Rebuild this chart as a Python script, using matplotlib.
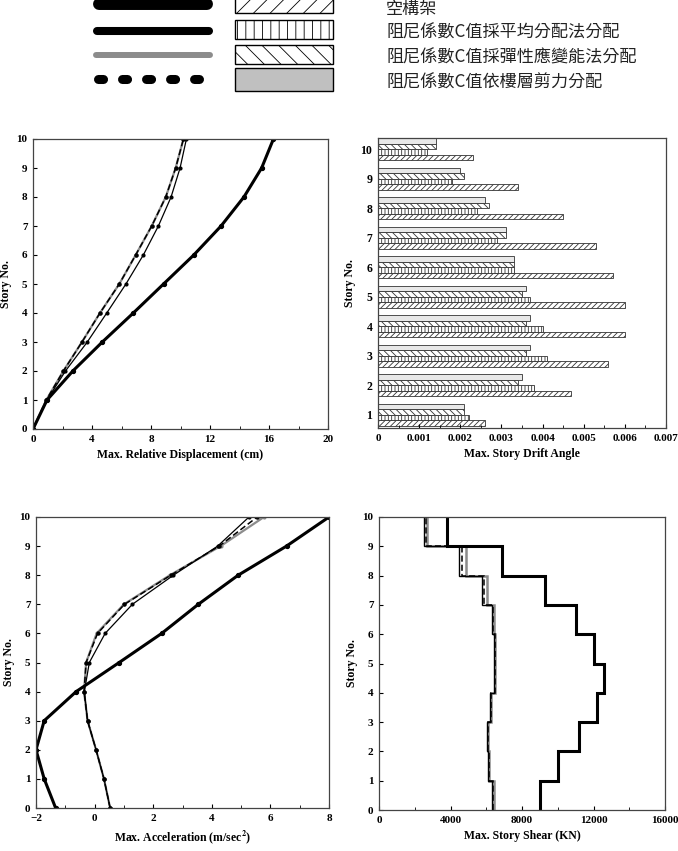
import matplotlib
matplotlib.use('Agg')
import matplotlib.pyplot as plt
from matplotlib.patches import Rectangle
from matplotlib.ticker import MultipleLocator

plt.rcParams['font.family'] = ['Liberation Serif', 'DejaVu Serif']
plt.rcParams['font.weight'] = 'bold'
plt.rcParams['axes.labelweight'] = 'bold'
plt.rcParams['mathtext.fontset'] = 'stix'
plt.rcParams['hatch.linewidth'] = 0.6

# 樓層
stories = list(range(0, 11))
bar_stories = list(range(1, 11))

legend_labels = ['空構架',
                 '阻尼係數C值採平均分配法分配',
                 '阻尼係數C值採彈性應變能法分配',
                 '阻尼係數C值依樓層剪力分配']

# 最大相對位移 (cm)
disp_bare = [0, 0.95, 2.7, 4.7, 6.8, 8.85, 10.9, 12.75, 14.3, 15.5, 16.3]
disp_avg = [0, 0.95, 2.2, 3.68, 5.0, 6.3, 7.48, 8.5, 9.36, 9.97, 10.4]
disp_energy = [0, 0.9, 2.06, 3.32, 4.54, 5.85, 6.96, 8.05, 9.0, 9.67, 10.2]
disp_shear = [0, 0.9, 2.06, 3.32, 4.54, 5.85, 6.96, 8.05, 9.0, 9.67, 10.2]

# 最大層間變位角
drift_bare = [0.0026, 0.0047, 0.0056, 0.0060, 0.0060, 0.0057, 0.0053, 0.0045, 0.0034, 0.0023]
drift_avg = [0.0022, 0.0038, 0.0041, 0.0040, 0.0037, 0.0033, 0.0029, 0.0024, 0.0018, 0.0012]
drift_energy = [0.0021, 0.0034, 0.0036, 0.0036, 0.0035, 0.0033, 0.0031, 0.0027, 0.0021, 0.0014]
drift_shear = [0.0021, 0.0035, 0.0037, 0.0037, 0.0036, 0.0033, 0.0031, 0.0026, 0.0020, 0.0014]
drift_ticks = ['0', '0.001', '0.002', '0.003', '0.004', '0.005', '0.006', '0.007']

# 最大加速度 (m/sec2)
acc_bare = [-1.33, -1.72, -2.0, -1.72, -0.63, 0.84, 2.29, 3.54, 4.9, 6.55, 8.0]
acc_avg = [0.53, 0.32, 0.05, -0.24, -0.35, -0.18, 0.36, 1.29, 2.69, 4.2, 5.27]
acc_energy = [0.53, 0.32, 0.05, -0.24, -0.36, -0.29, 0.07, 1.0, 2.57, 4.3, 5.78]
acc_shear = [0.53, 0.32, 0.05, -0.24, -0.36, -0.29, 0.1, 1.02, 2.6, 4.25, 5.55]

# 最大層剪力 (KN)
shear_bare = [9000, 10000, 11200, 12200, 12600, 12000, 11000, 9300, 6900, 3800]
shear_avg = [6330, 6100, 6050, 6200, 6430, 6430, 6330, 5760, 4450, 2500]
shear_energy = [6420, 6180, 6110, 6280, 6500, 6500, 6420, 6030, 4860, 2700]
shear_shear = [6380, 6140, 6080, 6240, 6470, 6470, 6380, 5900, 4660, 2620]

W, H = 678, 851
fig = plt.figure(figsize=(W / 100, H / 100), dpi=100)


def px_axes(x0, y0, x1, y1):
    return fig.add_axes([x0 / W, 1 - y1 / H, (x1 - x0) / W, (y1 - y0) / H])


def style(ax, xlabel):
    ax.tick_params(which='both', direction='in', top=False, right=False, labelsize=8, pad=4)
    ax.tick_params(which='major', length=3)
    ax.tick_params(which='minor', length=2)
    for lab in ax.get_xticklabels() + ax.get_yticklabels():
        lab.set_fontweight('bold')
    for s in ax.spines.values():
        s.set_linewidth(0.9)
        s.set_color('#444444')
    ax.set_xlabel(xlabel, fontsize=8.5, fontweight='bold', labelpad=4)
    ax.set_ylabel('Story No.', fontsize=8.5, fontweight='bold', labelpad=3)


def plot_lines(ax, x_lists):
    bare, avg, energy, shear = x_lists
    ax.plot(energy, stories, color='#8c8c8c', lw=1.6, marker='o', ms=2)
    ax.plot(shear, stories, color='k', lw=1.1, ls=(0, (4, 2)), marker='o', ms=2.2)
    ax.plot(avg, stories, color='k', lw=0.9, marker='o', ms=2)
    ax.plot(bare, stories, color='k', lw=2.2, marker='o', ms=2.8)


# ---- legend ----
lax = px_axes(0, 0, W, 102)
lax.set_xlim(0, W)
lax.set_ylim(102, 0)
lax.axis('off')
lax.plot([99, 207], [4, 4], color='k', lw=8.6, solid_capstyle='round')
lax.plot([97, 209], [31, 31], color='k', lw=5.8, solid_capstyle='round')
lax.plot([96, 210], [55, 55], color='#8c8c8c', lw=4.3, solid_capstyle='round')
lax.plot([97.5, 199], [79, 79], color='k', lw=6.5, dash_capstyle='round',
         ls=(0, (0.56, 2.1)))
patch_specs = [(-2, 15, 'white', '//'), (20, 19, 'white', '||'),
               (45, 19, 'white', '\\\\'), (68, 23, '#c0c0c0', None)]
for (y0, h, fc, hatch) in patch_specs:
    lax.add_patch(Rectangle((235, y0), 98, h, facecolor=fc, edgecolor='k',
                            lw=1.0, hatch=hatch))
for lab, y in zip(legend_labels, [9, 33, 58, 83]):
    lax.text(386, y, lab, fontsize=12.3, va='center', ha='left', weight='light',
             color='#222222', family=['Noto Sans CJK TC', 'DejaVu Sans'])

# ---- 位移 ----
ax1 = px_axes(33, 139, 328, 429)
plot_lines(ax1, [disp_bare, disp_avg, disp_energy, disp_shear])
ax1.set_xlim(0, 20)
ax1.set_ylim(0, 10)
ax1.xaxis.set_major_locator(MultipleLocator(4))
ax1.xaxis.set_minor_locator(MultipleLocator(2))
ax1.yaxis.set_major_locator(MultipleLocator(1))
style(ax1, 'Max. Relative Displacement (cm)')

# ---- 層間變位角 ----
ax2 = px_axes(378, 138, 666, 428)
bh = 0.187
ax2.barh([s - 1.5 * bh for s in bar_stories], drift_bare, height=bh, color='white',
         edgecolor='#333333', lw=0.6, hatch='//////')
ax2.barh([s - 0.5 * bh for s in bar_stories], drift_avg, height=bh, color='white',
         edgecolor='#333333', lw=0.6, hatch='|||||')
ax2.barh([s + 0.5 * bh for s in bar_stories], drift_energy, height=bh, color='white',
         edgecolor='#333333', lw=0.6, hatch='\\\\\\\\\\')
ax2.barh([s + 1.5 * bh for s in bar_stories], drift_shear, height=bh, color='#e8e8e8',
         edgecolor='#333333', lw=0.6)
ax2.set_xlim(0, 0.007)
ax2.set_ylim(0.545, 10.374)
ax2.set_yticks(bar_stories)
ax2.set_xticks([i * 0.001 for i in range(len(drift_ticks))])
ax2.set_xticklabels(drift_ticks)
ax2.xaxis.set_minor_locator(MultipleLocator(0.0005))
style(ax2, 'Max. Story Drift Angle')
ax2.tick_params(axis='y', length=0, labelsize=8.5)

# ---- 加速度 ----
ax3 = px_axes(36, 517, 329, 808)
plot_lines(ax3, [acc_bare, acc_avg, acc_energy, acc_shear])
ax3.set_xlim(-2, 8)
ax3.set_ylim(0, 10)
ax3.xaxis.set_major_locator(MultipleLocator(2))
ax3.xaxis.set_minor_locator(MultipleLocator(1))
ax3.yaxis.set_major_locator(MultipleLocator(1))
style(ax3, 'Max. Acceleration (m/sec$^{\\mathbf{2}}$)')

# ---- 層剪力 ----
ax4 = px_axes(379, 517, 665, 810)
ax4.stairs(shear_energy, stories, orientation='horizontal', baseline=None,
           color='#8c8c8c', lw=1.8)
ax4.stairs(shear_shear, stories, orientation='horizontal', baseline=None,
           color='k', lw=1.1, ls=(0, (4, 2)))
ax4.stairs(shear_avg, stories, orientation='horizontal', baseline=None,
           color='k', lw=1.0)
ax4.stairs(shear_bare, stories, orientation='horizontal', baseline=None,
           color='k', lw=2.2)
ax4.set_xlim(0, 16000)
ax4.set_ylim(0, 10)
ax4.xaxis.set_major_locator(MultipleLocator(4000))
ax4.xaxis.set_minor_locator(MultipleLocator(2000))
ax4.yaxis.set_major_locator(MultipleLocator(1))
style(ax4, 'Max. Story Shear (KN)')

fig.savefig('out.png', dpi=100)
